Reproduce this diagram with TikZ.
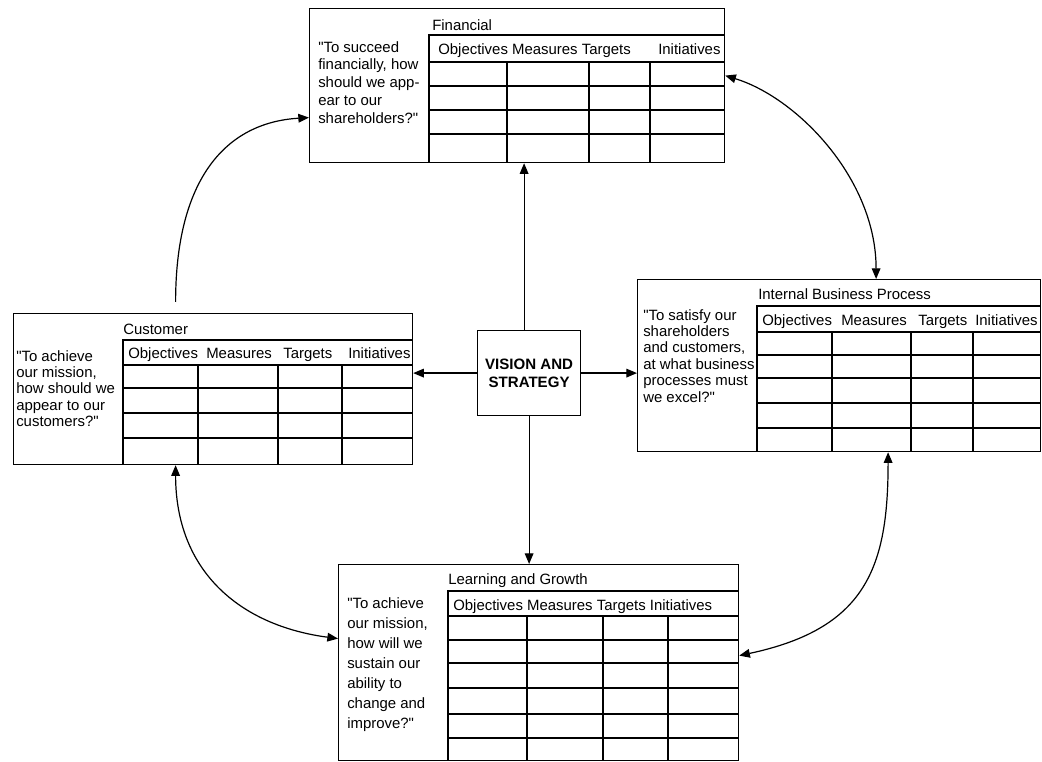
\documentclass[tikz,border=0pt]{standalone}
\usepackage{fontspec}
\setmainfont{Liberation Sans}
\usetikzlibrary{arrows.meta,calc}
\tikzset{
  box/.style={draw, line width=0.9pt, inner sep=0pt, anchor=north west},
  grid/.style={line width=0.8pt},
  hdr/.style={anchor=base west, inner sep=0pt, font=\fontsize{11.2pt}{13pt}\selectfont},
  qtext/.style={anchor=north west, inner sep=0pt, align=left},
  tip/.tip={Triangle[length=8pt,width=6.5pt]},
  conn/.style={line width=0.9pt, -tip},
  biconn/.style={line width=0.9pt, tip-tip},
}
\newcommand\qq{\textquotedbl}
\begin{document}
\begin{tikzpicture}[x=0.75pt,y=-0.75pt]
\useasboundingbox (0,0) rectangle (1042,762);
\fill[white] (0,0) rectangle (1042,762);

% outer boxes
\node[box, minimum width=311.25pt, minimum height=115.5pt] (fin) at (309,8) {};
\node[box, minimum width=302.25pt, minimum height=129pt] (ibp) at (637,279) {};
\node[box, minimum width=299.25pt, minimum height=113.25pt] (cus) at (13,313) {};
\node[box, minimum width=300pt, minimum height=147pt] (lrn) at (338,564) {};
\node[box, minimum width=77.25pt, minimum height=63.75pt, align=center,
      font=\bfseries\fontsize{11.3pt}{13.5pt}\selectfont] (vis) at (477,330) {VISION AND\\STRATEGY};

% tables
% Financial
\draw[grid] (429,162) -- (429,35) -- (724,35);
\foreach \y in {62,86,110,134} \draw[grid] (429,\y) -- (724,\y);
\foreach \x in {507,589,650} \draw[grid] (\x,62) -- (\x,162);
% Internal Business Process
\draw[grid] (757,451) -- (757,306) -- (1040,306);
\foreach \y in {332,355,378,403,428} \draw[grid] (757,\y) -- (1040,\y);
\foreach \x in {832,911,973} \draw[grid] (\x,332) -- (\x,451);
% Customer
\draw[grid] (123,464) -- (123,340) -- (412,340);
\foreach \y in {365,388,413,438} \draw[grid] (123,\y) -- (412,\y);
\foreach \x in {198,278,342} \draw[grid] (\x,365) -- (\x,464);
% Learning and Growth
\draw[grid] (448,760) -- (448,591) -- (738,591);
\foreach \y in {616,640,663,688,714,738} \draw[grid] (448,\y) -- (738,\y);
\foreach \x in {527,603,668} \draw[grid] (\x,616) -- (\x,760);

% titles
\node[hdr] (fin-title) at (432,31) {Financial};
\node[hdr] (ibp-title) at (758,299.5) {Internal Business Process};
\node[hdr] (cus-title) at (123,334.5) {Customer};
\node[hdr] (lrn-title) at (448,584.5) {Learning and Growth};

% headers
\node[hdr] (fin-h1) at (438,54.5) {Objectives Measures Targets};
\node[hdr] (fin-h2) at (658,54.5) {Initiatives};
\node[hdr] (ibp-o) at (762,325.5) {Objectives};
\node[hdr] (ibp-m) at (841,325.5) {Measures};
\node[hdr] (ibp-t) at (918,325.5) {Targets};
\node[hdr] (ibp-i) at (975,325.5) {Initiatives};
\node[hdr] (cus-o) at (128,358.5) {Objectives};
\node[hdr] (cus-m) at (206,358.5) {Measures};
\node[hdr] (cus-t) at (283,358.5) {Targets};
\node[hdr] (cus-i) at (348,358.5) {Initiatives};
\node[hdr] (lrn-h) at (453,610.5) {Objectives Measures Targets Initiatives};

% questions
\node[qtext, font=\fontsize{11.2pt}{13.4pt}\selectfont] (fin-q) at (318,41)
  {\qq To succeed\\financially, how\\should we app-\\ear to our\\shareholders?\qq};
\node[qtext, font=\fontsize{11.2pt}{12.3pt}\selectfont] (ibp-q) at (643,309)
  {\qq To satisfy our\\shareholders\\and customers,\\at what business\\processes must\\we excel?\qq};
\node[qtext, font=\fontsize{11.2pt}{12.3pt}\selectfont] (cus-q) at (16,350)
  {\qq To achieve\\our mission,\\how should we\\appear to our\\customers?\qq};
\node[qtext, font=\fontsize{11.2pt}{15pt}\selectfont] (lrn-q) at (347,597)
  {\qq To achieve\\our mission,\\how will we\\sustain our\\ability to\\change and\\improve?\qq};

% straight connectors
\coordinate (vtop) at ($(vis.north)+(-5,0)$);
\draw[conn] (vtop) -- (vtop |- fin.south);
\draw[conn] (vis.west) -- (vis.west -| cus.east);
\draw[conn] (vis.east) -- (vis.east -| ibp.west);
\draw[conn] (vis.south) -- (vis.south |- lrn.north);

% curved connectors
\coordinate (cusup) at ($(cus.north)+(-37.5,-11)$);
\coordinate (finin) at ($(fin.west)+(0,32)$);
\draw[conn] (cusup) .. controls +(0,-122) and +(-84,5) .. (finin);

\coordinate (finout) at ($(fin.east)+(0,-10)$);
\coordinate (ibpin) at ($(ibp.north)+(37,0)$);
\draw[biconn] (finout) .. controls +(72,22) and +(0,-100) .. (ibpin);

\coordinate (ibpout) at ($(ibp.south)+(49,0)$);
\coordinate (lrnr) at ($(lrn.east)+(0,-7)$);
\draw[biconn] (ibpout) .. controls +(0,115) and +(127,-27) .. (lrnr);

\coordinate (cusdn) at ($(cus.south)+(-37.5,0)$);
\coordinate (lrnl) at ($(lrn.west)+(0,-24)$);
\draw[biconn] (cusdn) .. controls +(0,106) and +(-98,-13) .. (lrnl);
\end{tikzpicture}
\end{document}
